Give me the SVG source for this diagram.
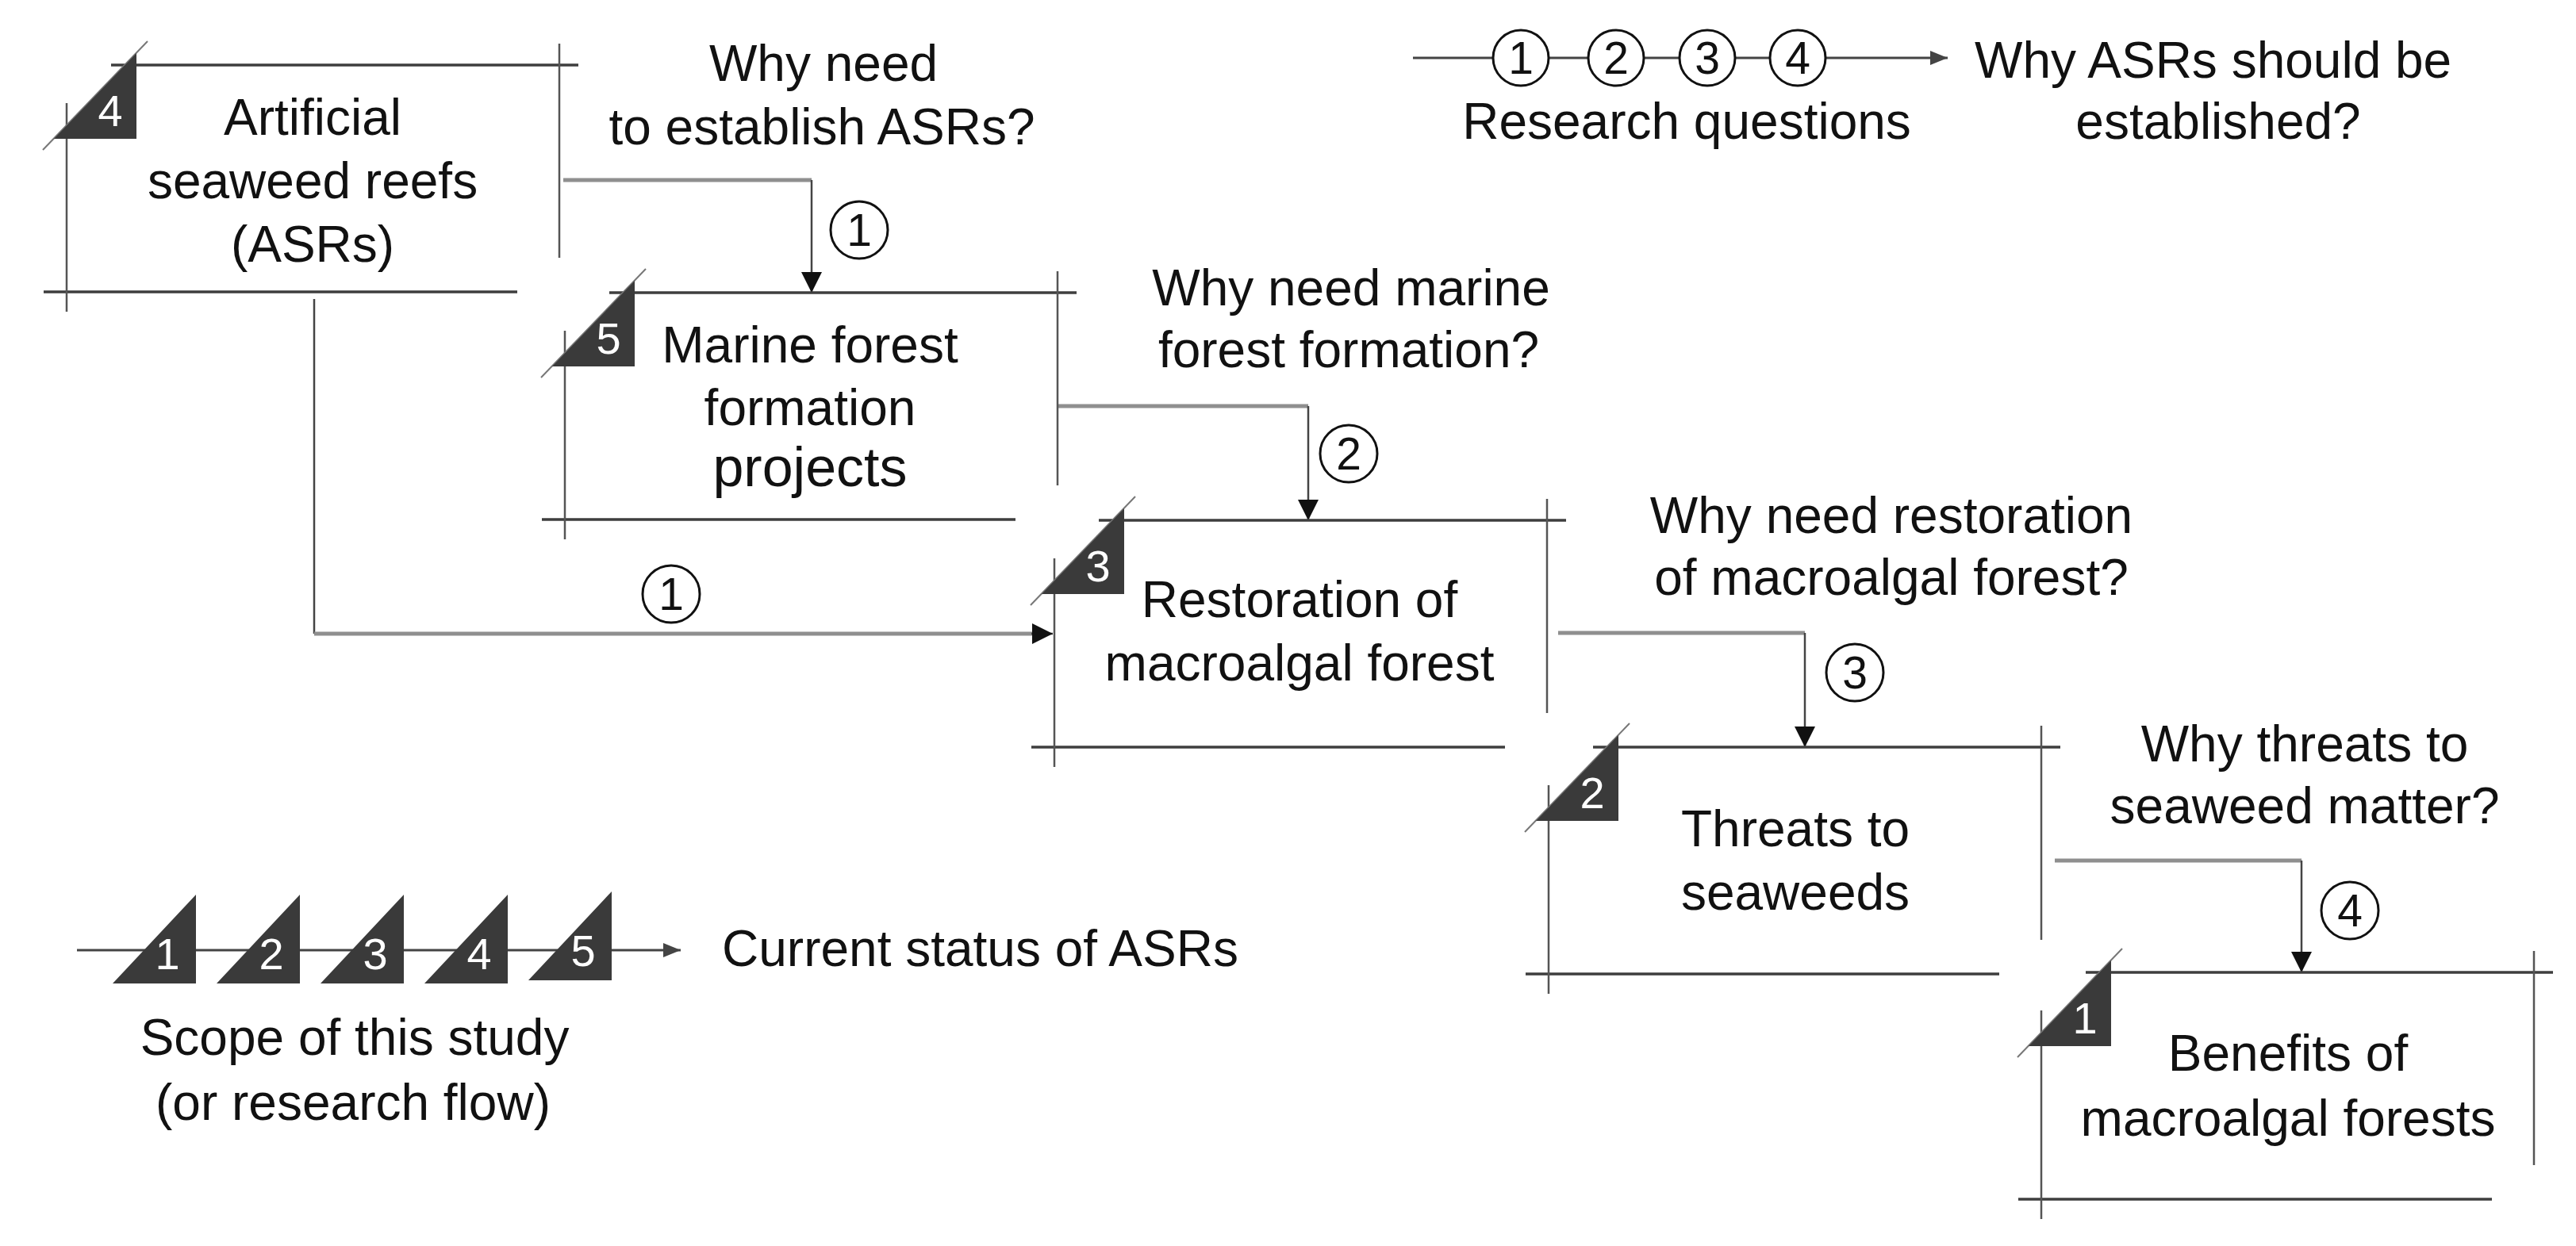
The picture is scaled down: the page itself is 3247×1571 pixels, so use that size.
<svg xmlns="http://www.w3.org/2000/svg" xmlns:xlink="http://www.w3.org/1999/xlink" width="3247" height="1571" viewBox="0 0 3247 1571">
<style>
  text { font-family: "Liberation Sans", Arial, sans-serif; fill: #111; }
  .lbl { font-size: 64px; text-anchor: middle; }
  .lbl-l { font-size: 64px; text-anchor: start; }
  .big { font-size: 70px; }
  .dig { font-size: 56px; fill: #fff; text-anchor: middle; }
  .cdig { font-size: 57px; text-anchor: middle; }
  .hl { stroke: #3e3e3e; stroke-width: 3.5; fill: none; }
  .vl { stroke: #555; stroke-width: 2.5; fill: none; }
  .hyp { stroke: #777; stroke-width: 2; fill: none; }
  .tri { fill: #3a3a3a; }
  .conn-h { stroke: #8f8f8f; stroke-width: 5; fill: none; }
  .conn-v { stroke: #444; stroke-width: 2.5; fill: none; }
  .circ { stroke: #111; stroke-width: 3; fill: #fff; }
  .leg { stroke: #444; stroke-width: 3; fill: none; }
</style>
<defs>
  <marker id="arr" markerUnits="userSpaceOnUse" viewBox="0 0 26 26" refX="26" refY="13" markerWidth="26" markerHeight="26" orient="auto">
    <path d="M0,0 L26,13 L0,26 z" fill="#111"/>
  </marker>
  <marker id="arr-s" markerUnits="userSpaceOnUse" viewBox="0 0 22 18" refX="22" refY="9" markerWidth="22" markerHeight="18" orient="auto">
    <path d="M0,0 L22,9 L0,18 z" fill="#444"/>
  </marker>
  <g id="frame">
    <line class="hl" x1="56" y1="0" x2="645" y2="0"/>
    <line class="vl" x1="621" y1="-27" x2="621" y2="243"/>
    <line class="hl" x1="-29" y1="286" x2="568" y2="286"/>
    <line class="vl" x1="0" y1="48" x2="0" y2="311"/>
    <line class="hyp" x1="102" y1="-30" x2="-30" y2="107"/>
    <polygon class="tri" points="88,-15 88,93 -16,93"/>
  </g>
  <polygon id="ltri" class="tri" points="0,-70 0,42 -105,42"/>
</defs>

<g id="connectors">
  <path class="conn-h" d="M710,227 H1023"/>
  <path class="conn-v" d="M1023,227 V369" marker-end="url(#arr)"/>
  <path class="conn-h" d="M1334,512 H1649"/>
  <path class="conn-v" d="M1649,512 V656" marker-end="url(#arr)"/>
  <path class="conn-h" d="M1964,798 H2275"/>
  <path class="conn-v" d="M2275,798 V942" marker-end="url(#arr)"/>
  <path class="conn-h" d="M2590,1085 H2901"/>
  <path class="conn-v" d="M2901,1085 V1226" marker-end="url(#arr)"/>
  <path class="conn-v" d="M396,377 V799"/>
  <path class="conn-h" d="M396,799 H1306"/>
  <path class="conn-v" d="M1300,799 H1327" marker-end="url(#arr)"/>
</g>

<g id="node-asr">
  <use xlink:href="#frame" href="#frame" transform="translate(84,82)"/>
  <text class="dig" x="139" y="159">4</text>
  <text class="lbl" x="394" y="170">Artificial</text>
  <text class="lbl" x="394" y="250">seaweed reefs</text>
  <text class="lbl" x="394" y="330">(ASRs)</text>
</g>

<g id="node-marine">
  <use xlink:href="#frame" href="#frame" transform="translate(712,369)"/>
  <text class="dig" x="767" y="446">5</text>
  <text class="lbl" x="1021" y="457">Marine forest</text>
  <text class="lbl" x="1021" y="536">formation</text>
  <text class="lbl big" x="1021" y="613">projects</text>
</g>

<g id="node-restoration">
  <use xlink:href="#frame" href="#frame" transform="translate(1329,656)"/>
  <text class="dig" x="1384" y="733">3</text>
  <text class="lbl" x="1638" y="778">Restoration of</text>
  <text class="lbl" x="1638" y="858">macroalgal forest</text>
</g>

<g id="node-threats">
  <use xlink:href="#frame" href="#frame" transform="translate(1952,942)"/>
  <text class="dig" x="2007" y="1019">2</text>
  <text class="lbl" x="2263" y="1067">Threats to</text>
  <text class="lbl" x="2263" y="1147">seaweeds</text>
</g>

<g id="node-benefits">
  <use xlink:href="#frame" href="#frame" transform="translate(2573,1226)"/>
  <text class="dig" x="2628" y="1303">1</text>
  <text class="lbl" x="2884" y="1350">Benefits of</text>
  <text class="lbl" x="2884" y="1432">macroalgal forests</text>
</g>

<g id="q1">
  <circle class="circ" cx="1083" cy="290" r="36"/>
  <text class="cdig" x="1083" y="310">1</text>
  <text class="lbl" x="1038" y="102">Why need</text>
  <text class="lbl" x="1036" y="182">to establish ASRs?</text>
</g>
<g id="q1b">
  <circle class="circ" cx="846" cy="749" r="36"/>
  <text class="cdig" x="846" y="769">1</text>
</g>
<g id="q2">
  <circle class="circ" cx="1700" cy="572" r="36"/>
  <text class="cdig" x="1700" y="592">2</text>
  <text class="lbl" x="1703" y="385">Why need marine</text>
  <text class="lbl" x="1700" y="463">forest formation?</text>
</g>
<g id="q3">
  <circle class="circ" cx="2338" cy="848" r="36"/>
  <text class="cdig" x="2338" y="868">3</text>
  <text class="lbl" x="2384" y="672">Why need restoration</text>
  <text class="lbl" x="2384" y="750">of macroalgal forest?</text>
</g>
<g id="q4">
  <circle class="circ" cx="2962" cy="1148" r="36"/>
  <text class="cdig" x="2962" y="1168">4</text>
  <text class="lbl" x="2905" y="960">Why threats to</text>
  <text class="lbl" x="2905" y="1038">seaweed matter?</text>
</g>

<g id="legend-questions">
  <path class="leg" d="M1781,73 H2455" marker-end="url(#arr-s)"/>
  <circle class="circ" cx="1917" cy="73" r="35"/>
  <text class="cdig" x="1917" y="93">1</text>
  <circle class="circ" cx="2037" cy="73" r="35"/>
  <text class="cdig" x="2037" y="93">2</text>
  <circle class="circ" cx="2152" cy="73" r="35"/>
  <text class="cdig" x="2152" y="93">3</text>
  <circle class="circ" cx="2266" cy="73" r="35"/>
  <text class="cdig" x="2266" y="93">4</text>
  <text class="lbl" x="2126" y="175">Research questions</text>
  <text class="lbl-l" x="2489" y="98">Why ASRs should be</text>
  <text class="lbl" x="2796" y="175">established?</text>
</g>

<g id="legend-scope">
  <path class="leg" d="M97,1198 H858" marker-end="url(#arr-s)"/>
  <use xlink:href="#ltri" href="#ltri" transform="translate(247,1198)"/>
  <use xlink:href="#ltri" href="#ltri" transform="translate(378,1198)"/>
  <use xlink:href="#ltri" href="#ltri" transform="translate(509,1198)"/>
  <use xlink:href="#ltri" href="#ltri" transform="translate(640,1198)"/>
  <use xlink:href="#ltri" href="#ltri" transform="translate(771,1194)"/>
  <text class="dig" x="211" y="1222">1</text>
  <text class="dig" x="342" y="1222">2</text>
  <text class="dig" x="473" y="1222">3</text>
  <text class="dig" x="604" y="1222">4</text>
  <text class="dig" x="735" y="1218">5</text>
  <text class="lbl-l" x="910" y="1218">Current status of ASRs</text>
  <text class="lbl" x="447" y="1330">Scope of this study</text>
  <text class="lbl" x="445" y="1412">(or research flow)</text>
</g>
</svg>
